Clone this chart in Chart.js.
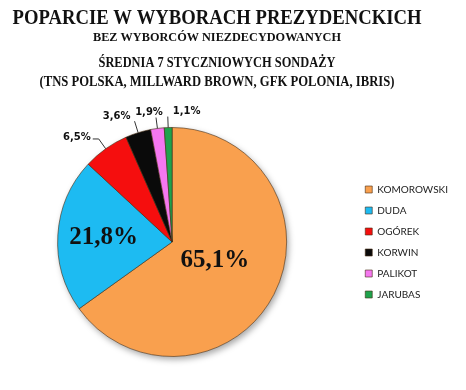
<!DOCTYPE html>
<html>
<head>
<meta charset="utf-8">
<script src="https://cdn.jsdelivr.net/npm/chart.js@4.4.1/dist/chart.umd.min.js"></script>
<style>
    html, body { margin: 0; padding: 0; background: #fff; overflow: hidden; }
    #wrap { width: 466px; height: 390px; overflow: hidden; }
    #pieChart { margin-left: -10px; display: block; }
</style>
</head>
<body>
<div id="wrap"><canvas id="pieChart" width="476" height="390"></canvas></div>
<script>
// dane z wykresu
const candidates = ['KOMOROWSKI', 'DUDA', 'OGÓREK', 'KORWIN', 'PALIKOT', 'JARUBAS'];
const support = [65.1, 21.8, 6.5, 3.6, 1.9, 1.1];
const sliceColors = ['#F9A04E', '#1DBBF2', '#F50E0E', '#0A0A0A', '#F577F0', '#1FA24C'];

const titleLines = [
    'POPARCIE W WYBORACH PREZYDENCKICH',
    'BEZ WYBORCÓW NIEZDECYDOWANYCH',
    'ŚREDNIA 7 STYCZNIOWYCH SONDAŻY',
    '(TNS POLSKA, MILLWARD BROWN, GFK POLONIA, IBRIS)'
];

// układ tytułu: rozmiar czcionki, linia bazowa, maks. szerokość
// (kanwa przesunięta o 10 px w lewo, więc x = 217 + 10)
const titleStyle = [
    { size: 20, y: 24, w: 409 },
    { size: 12.5, y: 41, w: 248 },
    { size: 15, y: 67, w: 237 },
    { size: 15, y: 86, w: 355 }
];

// etykiety: wewnątrz (promień względny) lub na zewnątrz z linią
const labelLayout = [
    { inside: 0.42, dy: -3, size: 25 },
    { inside: 0.6, dy: 0, size: 25 },
    { len: 12, dx: -6, tx: -2, ty: -2, align: 'right', base: 'middle' },
    { len: 12, dx: 0, tx: -4, ty: -2, align: 'right', base: 'alphabetic' },
    { len: 11, dx: 0, tx: -7, ty: -3, align: 'center', base: 'alphabetic' },
    { len: 11, dx: 0, tx: 5, ty: -3, align: 'left', base: 'alphabetic' }
];

function fmt(v) {
    return v.toFixed(1).replace('.', ',') + '%';
}

// tytuł rysowany na kanwie
const titlePlugin = {
    id: 'titleLines',
    afterDraw(chart) {
        const ctx = chart.ctx;
        ctx.save();
        ctx.fillStyle = '#111';
        ctx.textAlign = 'center';
        ctx.textBaseline = 'alphabetic';
        titleLines.forEach((line, i) => {
            const st = titleStyle[i];
            ctx.font = 'bold ' + st.size + 'px "Liberation Serif", serif';
            ctx.fillText(line, 227, st.y, st.w);
        });
        ctx.restore();
    }
};

// cień pod kołem
const shadowPlugin = {
    id: 'pieShadow',
    beforeDatasetsDraw(chart) {
        const arc = chart.getDatasetMeta(0).data[0];
        if (!arc) return;
        const ctx = chart.ctx;
        ctx.save();
        ctx.shadowColor = 'rgba(0,0,0,0.35)';
        ctx.shadowBlur = 6;
        ctx.shadowOffsetX = 2;
        ctx.shadowOffsetY = 3;
        ctx.beginPath();
        ctx.arc(arc.x, arc.y, arc.outerRadius, 0, Math.PI * 2);
        ctx.fillStyle = '#ddd';
        ctx.fill();
        ctx.restore();
    }
};

// etykiety wartości
const labelPlugin = {
    id: 'sliceLabels',
    afterDatasetsDraw(chart) {
        const ctx = chart.ctx;
        const meta = chart.getDatasetMeta(0);
        ctx.save();
        meta.data.forEach((arc, i) => {
            const p = arc.getProps(['x', 'y', 'startAngle', 'endAngle', 'outerRadius'], true);
            const mid = (p.startAngle + p.endAngle) / 2;
            const c = Math.cos(mid), s = Math.sin(mid);
            const lay = labelLayout[i];
            const text = fmt(support[i]);
            if (lay.inside) {
                ctx.font = 'bold ' + lay.size + 'px "Liberation Serif", serif';
                ctx.fillStyle = '#111';
                ctx.textAlign = 'center';
                ctx.textBaseline = 'middle';
                ctx.fillText(text, p.x + c * p.outerRadius * lay.inside, p.y + s * p.outerRadius * lay.inside + lay.dy);
            } else {
                const px = p.x + c * p.outerRadius, py = p.y + s * p.outerRadius;
                const qx = p.x + c * (p.outerRadius + lay.len), qy = p.y + s * (p.outerRadius + lay.len);
                const rx = qx + lay.dx;
                ctx.strokeStyle = '#333';
                ctx.lineWidth = 1;
                ctx.beginPath();
                ctx.moveTo(px, py);
                ctx.lineTo(qx, qy);
                ctx.lineTo(rx, qy);
                ctx.stroke();
                ctx.font = 'bold 10px "DejaVu Sans", sans-serif';
                ctx.fillStyle = '#111';
                ctx.textAlign = lay.align;
                ctx.textBaseline = lay.base;
                ctx.fillText(text, rx + lay.tx, qy + lay.ty);
            }
        });
        ctx.restore();
    }
};

new Chart(document.getElementById('pieChart'), {
    type: 'pie',
    data: {
        labels: candidates,
        datasets: [{
            data: support,
            backgroundColor: sliceColors,
            borderColor: 'rgba(70,45,20,0.6)',
            borderWidth: 1
        }]
    },
    options: {
        responsive: false,
        animation: false,
        layout: {
            padding: { top: 127, bottom: 33, left: 0, right: 8 }
        },
        plugins: {
            title: { display: false },
            tooltip: { enabled: false },
            legend: {
                display: true,
                position: 'right',
                labels: {
                    boxWidth: 7,
                    boxHeight: 7,
                    padding: 11,
                    color: '#222',
                    font: { family: 'Lato', size: 10 }
                }
            }
        }
    },
    plugins: [shadowPlugin, labelPlugin, titlePlugin]
});
</script>
</body>
</html>
